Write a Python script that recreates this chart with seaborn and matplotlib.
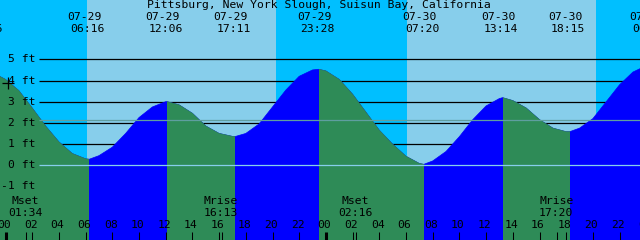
import matplotlib
matplotlib.use("Agg")
import matplotlib.pyplot as plt
import seaborn as sns
import pandas as pd
from matplotlib.patches import Rectangle

# ---------------- data ----------------
hours = list(range(-2, 49))
tide_ft = [4.35, 4.38, 4.05, 3.52, 2.70, 1.85, 1.10, 0.55, 0.30,      # -2 .. 6
           0.45, 0.85, 1.50, 2.25, 2.75, 3.00,                          # 7 .. 12
           2.85, 2.45, 1.85, 1.50, 1.36,                                # 13 .. 17
           1.50, 1.95, 2.75, 3.55, 4.20, 4.50,                          # 18 .. 23
           4.45, 4.05, 3.35, 2.50, 1.65, 0.99, 0.42, 0.08,              # 24 .. 31
           0.20, 0.65, 1.35, 2.15, 2.80, 3.15,                          # 32 .. 37
           3.05, 2.70, 2.15, 1.75, 1.58,                                # 38 .. 42
           1.75, 2.20, 3.00, 3.80, 4.40, 4.70]                          # 43 .. 48

event_hours = [-1.40, 6.267, 12.10, 17.183, 23.467, 31.333, 37.233, 42.25, 48.37]
event_ft = [4.40, 0.28, 3.00, 1.35, 4.53, 0.04, 3.19, 1.58, 4.75]
event_dates = ["07-28", "07-29", "07-29", "07-29", "07-29", "07-30", "07-30", "07-30", "07-31"]
event_times = ["22:36", "06:16", "12:06", "17:11", "23:28", "07:20", "13:14", "18:15", "00:22"]
event_kind = ["high", "low", "high", "low", "high", "low", "high", "low", "high"]

sunrise_hours = [6.10, 30.10]
sunset_hours = [20.27, 44.25]

moon_hours = [1.567, 16.217, 26.267, 41.333]
moon_names = ["Mset", "Mrise", "Mset", "Mrise"]
moon_times = ["01:34", "16:13", "02:16", "17:20"]

grid_ft = [1, 2, 3, 4, 5]
label_ft = [-1, 0, 1, 2, 3, 4, 5]
msl_ft = 2.12
datum_ft = 0
now_hour, now_ft = 0.19, 3.90
tick_hours = list(range(0, 49, 2))
tick_labels = ["%02d" % (h % 24) for h in tick_hours]
title = "Pittsburg, New York Slough, Suisun Bay, California"

# combined curve: hourly readings plus the extremes
curve = pd.concat([pd.DataFrame({"h": hours, "ft": tide_ft}),
                   pd.DataFrame({"h": event_hours, "ft": event_ft})]).sort_values("h")

# ---------------- layout ----------------
W, H = 640, 240
X0, KX = 5.5, 13.35        # pixel of hour 0, pixels per hour
Y0, KY = 165.2, 21.17      # pixel of 0 ft, pixels per ft

def hx(h):
    return X0 + KX * h

NIGHT, DAY = "#00BFFF", "#87CEEB"
RISE, FALL = "#0000FF", "#2E8B57"

sns.set_style("white")
plt.rcParams["font.family"] = ["DejaVu Sans Mono", "DejaVu Sans"]

fig = plt.figure(figsize=(W / 100, H / 100), dpi=100)
ax = fig.add_axes([0, 0, 1, 1])
ax.set_xlim(-X0 / KX, (W - X0) / KX)
ax.set_ylim(-(H - Y0) / KY, Y0 / KY)
ax.axis("off")
fig.patch.set_facecolor(NIGHT)
ax.add_patch(Rectangle((0, 0), 1, 1, transform=ax.transAxes, color=NIGHT, zorder=0))

for a, b in zip(sunrise_hours, sunset_hours):
    ax.axvspan(a, b, color=DAY, lw=0, zorder=0.5)

# gridlines
x_start = ax.get_xlim()[0] + 39 / KX
ax.hlines(grid_ft, x_start, ax.get_xlim()[1], color="black", lw=0.9, zorder=1)

# tide fill: rising in blue, falling spans in green
ax.fill_between(curve["h"], curve["ft"], -20, color=RISE, lw=0, zorder=2)
sns.lineplot(data=curve, x="h", y="ft", ax=ax, color=RISE, lw=0.5, zorder=2.1)
for i in range(len(event_hours) - 1):
    if event_kind[i] == "high":
        a, b = event_hours[i], event_hours[i + 1]
        fb = ax.fill_between(curve["h"], curve["ft"], -20, color=FALL, lw=0, zorder=2.2)
        fb.set_clip_path(Rectangle((a, -50), b - a, 100, transform=ax.transData))
        sns.lineplot(data=curve, x="h", y="ft", ax=ax, color=FALL, lw=0.5, zorder=2.3)
        ax.lines[-1].set_clip_path(Rectangle((a, -50), b - a, 100, transform=ax.transData))

# datum and MSL lines
ax.hlines([datum_ft], x_start, ax.get_xlim()[1], color="#87CEEB", lw=0.9, zorder=3)
ax.hlines([msl_ft], x_start, ax.get_xlim()[1], color="#5F9EA0", lw=0.9, zorder=3)

# now marker
ax.plot([now_hour], [now_ft], marker="+", ms=8, mew=0.9, color="black", zorder=4)

fs = 8.2
def ftext(x, y, s, ha="center"):
    fig.text(x / W, 1 - y / H, s, ha=ha, va="center", fontsize=fs, color="black", zorder=5)

# y labels
for v in label_ft:
    ftext(35.5, Y0 - KY * v, "%d ft" % v, ha="right")

# top labels
ftext(319, 5.5, title)
for h, d, t in zip(event_hours, event_dates, event_times):
    ftext(hx(h) - 4.5, 17, d)
    ftext(hx(h) - 1.5, 29.5, t)

# moon events
for h, n, t in zip(moon_hours, moon_names, moon_times):
    ftext(hx(h) - 1, 201, n)
    ftext(hx(h) - 1, 213, t)

# hour labels
for h, lab in zip(tick_hours, tick_labels):
    ftext(hx(h) - 1.5, 225, lab)

# ticks
tr = ax.get_xaxis_transform()
for h in tick_hours:
    lw = 2.2 if h % 24 == 0 else 0.75
    ax.vlines(h, 0, 8.3 / H, transform=tr, color="black", lw=lw, zorder=4)
ax.vlines(moon_hours, 0, 8.3 / H, transform=tr, color="black", lw=0.75, zorder=4)

fig.savefig("out.png", dpi=100)
